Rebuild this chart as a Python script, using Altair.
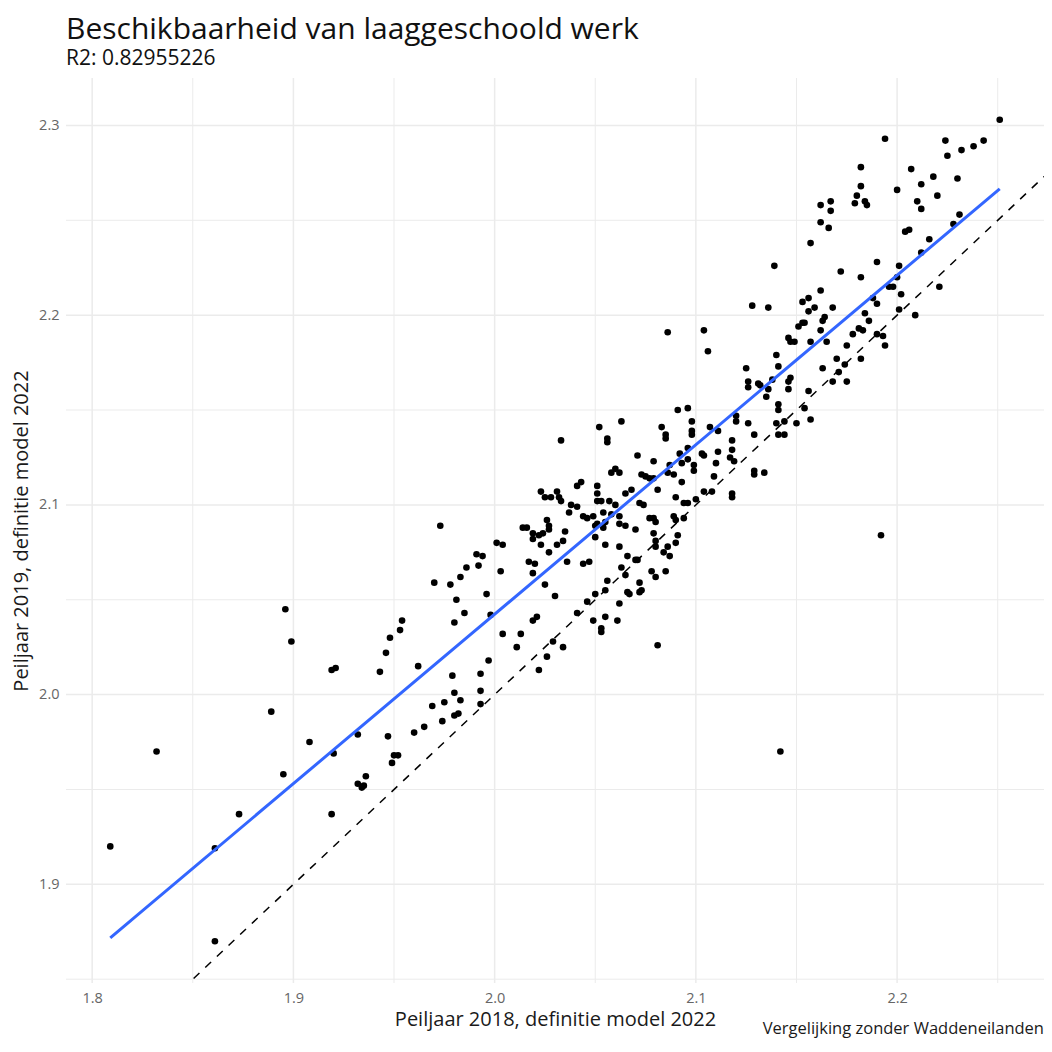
import altair as alt
import pandas as pd

# (Peiljaar 2018, Peiljaar 2019) pairs
points_low = [
    (1.809, 1.920), (1.832, 1.970), (1.861, 1.919), (1.861, 1.870), (1.873, 1.937),
    (1.889, 1.991), (1.895, 1.958), (1.908, 1.975), (1.920, 1.969), (1.919, 1.937),
    (1.932, 1.979), (1.932, 1.953), (1.935, 1.952), (1.934, 1.951), (1.936, 1.957),
    (1.896, 2.045), (1.899, 2.028), (1.919, 2.013), (1.921, 2.014), (1.943, 2.012),
    (1.946, 2.022), (1.948, 2.030), (1.953, 2.034), (1.954, 2.039), (1.962, 2.015),
    (1.947, 1.978), (1.950, 1.968), (1.952, 1.968), (1.949, 1.964), (1.960, 1.980),
    (1.965, 1.983), (1.969, 1.994), (1.975, 1.996), (1.974, 1.986), (1.973, 2.089),
    (1.970, 2.059), (1.978, 2.058), (1.981, 2.050), (1.980, 2.038), (1.979, 2.010),
    (1.980, 2.001), (1.983, 1.997), (1.980, 1.989), (1.982, 1.990), (1.983, 2.062),
    (1.985, 2.043), (1.986, 2.067),
]
points_mid_left = [
    (1.991, 2.074), (1.994, 2.073), (1.992, 2.068), (1.996, 2.053), (1.998, 2.042),
    (2.001, 2.080), (2.004, 2.079), (2.003, 2.065), (2.004, 2.032), (2.013, 2.032),
    (2.011, 2.025), (1.997, 2.018), (1.993, 2.011), (1.993, 2.002), (1.993, 1.995),
    (2.019, 2.039), (2.021, 2.041), (2.029, 2.028), (2.034, 2.025), (2.026, 2.020),
    (2.022, 2.013), (2.025, 2.058), (2.030, 2.052),
    (2.017, 2.070), (2.020, 2.069), (2.019, 2.064), (2.014, 2.088), (2.016, 2.088),
    (2.019, 2.085), (2.022, 2.084), (2.024, 2.085), (2.019, 2.082), (2.023, 2.079),
    (2.027, 2.075), (2.026, 2.092), (2.027, 2.089), (2.027, 2.087), (2.031, 2.079),
    (2.035, 2.086), (2.034, 2.081), (2.036, 2.070), (2.023, 2.107), (2.025, 2.104),
    (2.028, 2.104), (2.031, 2.107), (2.032, 2.104), (2.033, 2.102), (2.033, 2.134),
    (2.038, 2.100), (2.041, 2.099), (2.037, 2.096), (2.041, 2.110), (2.043, 2.112),
]
points_mid = [
    (2.044, 2.094), (2.046, 2.093), (2.049, 2.094), (2.050, 2.089), (2.051, 2.090),
    (2.050, 2.083), (2.055, 2.079), (2.044, 2.069), (2.047, 2.070), (2.052, 2.141),
    (2.056, 2.135), (2.056, 2.133), (2.063, 2.144), (2.051, 2.110), (2.051, 2.106),
    (2.051, 2.102), (2.053, 2.102), (2.054, 2.096), (2.055, 2.091), (2.054, 2.088),
    (2.057, 2.102), (2.058, 2.095), (2.060, 2.100), (2.058, 2.117), (2.060, 2.119),
    (2.062, 2.117), (2.071, 2.126), (2.062, 2.090), (2.062, 2.078), (2.065, 2.089),
    (2.070, 2.087), (2.066, 2.073), (2.070, 2.071), (2.063, 2.067), (2.065, 2.063),
    (2.056, 2.060), (2.055, 2.055), (2.050, 2.053), (2.046, 2.049), (2.041, 2.043),
    (2.049, 2.039), (2.055, 2.041), (2.053, 2.035), (2.053, 2.033), (2.061, 2.039),
    (2.062, 2.048), (2.066, 2.054), (2.067, 2.053), (2.072, 2.054), (2.073, 2.055),
    (2.072, 2.059), (2.078, 2.065), (2.080, 2.062), (2.073, 2.116), (2.075, 2.115),
    (2.077, 2.114), (2.079, 2.114), (2.079, 2.123), (2.072, 2.101), (2.074, 2.100),
    (2.077, 2.093), (2.079, 2.093), (2.080, 2.091), (2.079, 2.085), (2.081, 2.026),
    (2.065, 2.106), (2.068, 2.108), (2.062, 2.094),
    (2.080, 2.081), (2.080, 2.078), (2.086, 2.078), (2.084, 2.075), (2.087, 2.073),
    (2.090, 2.080), (2.085, 2.065), (2.071, 2.071), (2.142, 1.970),
]
points_mid_right = [
    (2.086, 2.191), (2.104, 2.192), (2.106, 2.181), (2.083, 2.141), (2.085, 2.137),
    (2.085, 2.135), (2.087, 2.121), (2.086, 2.117), (2.089, 2.116), (2.081, 2.108),
    (2.090, 2.104), (2.089, 2.094), (2.090, 2.092), (2.094, 2.093), (2.091, 2.150),
    (2.096, 2.151), (2.098, 2.144), (2.098, 2.139), (2.098, 2.137), (2.092, 2.127),
    (2.096, 2.130), (2.096, 2.124), (2.103, 2.127), (2.104, 2.126), (2.093, 2.122),
    (2.099, 2.121), (2.099, 2.118), (2.093, 2.112), (2.107, 2.141), (2.111, 2.139),
    (2.111, 2.128), (2.118, 2.134), (2.118, 2.129), (2.117, 2.125), (2.119, 2.123),
    (2.110, 2.122), (2.109, 2.115), (2.120, 2.147), (2.120, 2.144), (2.126, 2.143),
    (2.129, 2.137), (2.129, 2.118), (2.129, 2.116), (2.134, 2.117), (2.118, 2.106),
    (2.118, 2.104), (2.108, 2.107), (2.104, 2.107), (2.100, 2.103), (2.094, 2.101),
    (2.096, 2.101), (2.091, 2.084),
]
points_upper = [
    (2.125, 2.172), (2.126, 2.165), (2.126, 2.162), (2.131, 2.164), (2.132, 2.163),
    (2.138, 2.166), (2.136, 2.161), (2.135, 2.157), (2.140, 2.179), (2.141, 2.173),
    (2.147, 2.167), (2.146, 2.165), (2.146, 2.161), (2.156, 2.160), (2.141, 2.153),
    (2.141, 2.150), (2.154, 2.151), (2.157, 2.145), (2.150, 2.143), (2.144, 2.144),
    (2.140, 2.143), (2.141, 2.137), (2.144, 2.137), (2.128, 2.205), (2.136, 2.204),
    (2.153, 2.207), (2.156, 2.202), (2.159, 2.204), (2.164, 2.199), (2.163, 2.197),
    (2.168, 2.204), (2.151, 2.194), (2.153, 2.196), (2.154, 2.196), (2.146, 2.188),
    (2.147, 2.186), (2.149, 2.186), (2.162, 2.192), (2.157, 2.186), (2.165, 2.186),
    (2.178, 2.190), (2.175, 2.184), (2.170, 2.177), (2.174, 2.174), (2.171, 2.170),
    (2.163, 2.172), (2.168, 2.165), (2.175, 2.165), (2.156, 2.209),
]
points_top = [
    (2.251, 2.303), (2.194, 2.293), (2.224, 2.292), (2.225, 2.284), (2.232, 2.287),
    (2.238, 2.289), (2.243, 2.292), (2.182, 2.278), (2.207, 2.277), (2.218, 2.273),
    (2.230, 2.272), (2.182, 2.268), (2.200, 2.266), (2.212, 2.269), (2.180, 2.263),
    (2.179, 2.259), (2.184, 2.260), (2.185, 2.258), (2.220, 2.263), (2.162, 2.258),
    (2.167, 2.260), (2.167, 2.255), (2.210, 2.260), (2.212, 2.256), (2.162, 2.249),
    (2.166, 2.246), (2.231, 2.253), (2.228, 2.248), (2.204, 2.244), (2.206, 2.245),
    (2.216, 2.240), (2.157, 2.238), (2.212, 2.233), (2.139, 2.226), (2.190, 2.228),
    (2.201, 2.226), (2.172, 2.223), (2.182, 2.220), (2.200, 2.220), (2.196, 2.215),
    (2.198, 2.215), (2.202, 2.211), (2.221, 2.215), (2.162, 2.213), (2.188, 2.209),
    (2.190, 2.206), (2.184, 2.201), (2.201, 2.203), (2.209, 2.200), (2.186, 2.197),
    (2.181, 2.193), (2.183, 2.192), (2.190, 2.190), (2.193, 2.189), (2.194, 2.184),
    (2.182, 2.177), (2.192, 2.084),
]

x_major = [1.8, 1.9, 2.0, 2.1, 2.2]
x_minor = [1.85, 1.95, 2.05, 2.15, 2.25]
y_major = [1.9, 2.0, 2.1, 2.2, 2.3]
y_minor = [1.85, 1.95, 2.05, 2.15, 2.25]
x_domain = [1.787, 2.273]
y_domain = [1.848, 2.325]
identity_ends = [1.70, 2.40]

title_text = "Beschikbaarheid van laaggeschoold werk"
subtitle_text = "R2: 0.82955226"
x_title = "Peiljaar 2018, definitie model 2022"
y_title = "Peiljaar 2019, definitie model 2022"
caption_text = "Vergelijking zonder Waddeneilanden"

FONT = "Open Sans"
GRID = "#EBEBEB"
PLOT_W = 978
PLOT_H = 905

all_points = points_low + points_mid_left + points_mid + points_mid_right + points_upper + points_top
df = pd.DataFrame(all_points, columns=["x", "y"])

xs = alt.Scale(domain=x_domain, nice=False, zero=False)
ys = alt.Scale(domain=y_domain, nice=False, zero=False)

x_axis = alt.Axis(values=x_major, format=".1f", title=x_title, grid=False, domain=False,
                  ticks=False, tickSize=0, labelPadding=8, titlePadding=5,
                  labelFontSize=14.5, labelColor="#666666", labelFont=FONT,
                  titleFontSize=20, titleFontWeight="normal", titleColor="#1a1a1a", titleFont=FONT)
y_axis = alt.Axis(values=y_major, format=".1f", title=y_title, grid=False, domain=False,
                  ticks=False, tickSize=0, labelPadding=7, titlePadding=7,
                  labelFontSize=14.5, labelColor="#666666", labelFont=FONT,
                  titleFontSize=20, titleFontWeight="normal", titleColor="#1a1a1a", titleFont=FONT)

X = alt.X("x:Q", scale=xs, axis=x_axis)
Y = alt.Y("y:Q", scale=ys, axis=y_axis)

vminor = alt.Chart(pd.DataFrame({"x": x_minor})).mark_rule(color=GRID, strokeWidth=1).encode(x=X)
vmajor = alt.Chart(pd.DataFrame({"x": x_major})).mark_rule(color=GRID, strokeWidth=1.5).encode(x=X)
hminor = alt.Chart(pd.DataFrame({"y": y_minor})).mark_rule(color=GRID, strokeWidth=1).encode(y=Y)
hmajor = alt.Chart(pd.DataFrame({"y": y_major})).mark_rule(color=GRID, strokeWidth=1.5).encode(y=Y)

identity = alt.Chart(pd.DataFrame({"x": identity_ends, "y": identity_ends})).mark_line(
    color="black", strokeWidth=1.5, strokeDash=[8, 8], clip=True
).encode(x=X, y=Y)

dots = alt.Chart(df).mark_circle(size=44, color="black", opacity=1).encode(x=X, y=Y)

fit = alt.Chart(df).transform_regression("x", "y").mark_line(
    color="#3366FF", strokeWidth=3
).encode(x=X, y=Y)

caption = alt.Chart(pd.DataFrame({"t": [caption_text]})).mark_text(
    align="right", baseline="middle", fontSize=16.5, font=FONT, color="#1a1a1a"
).encode(x=alt.value(PLOT_W), y=alt.value(951), text="t:N")

chart = alt.layer(vminor, vmajor, hminor, hmajor, identity, dots, fit, caption).properties(
    width=PLOT_W, height=PLOT_H,
    autosize=alt.AutoSizeParams(type="none"),
    padding={"left": 58, "top": 70, "right": 0, "bottom": 57},
    title=alt.TitleParams(text=title_text, subtitle=subtitle_text, anchor="start", frame="group",
                          font=FONT, fontSize=30, fontWeight="normal", color="#111111",
                          subtitleFont=FONT, subtitleFontSize=21, subtitleColor="#111111",
                          subtitlePadding=3, offset=8),
).configure_view(stroke=None)

chart.save("out.html", embed_options={"renderer": "svg", "actions": False})
